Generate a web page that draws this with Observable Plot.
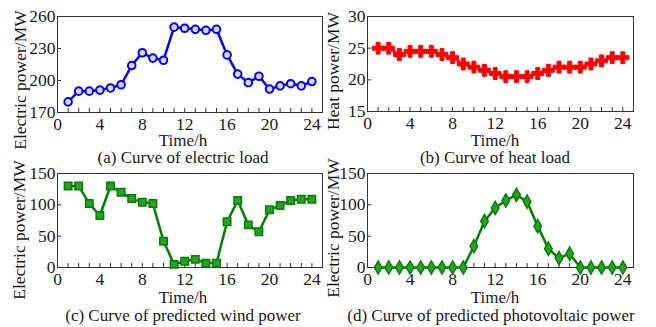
<!DOCTYPE html>
<html>
<head>
<meta charset="utf-8">
<script src="https://cdn.jsdelivr.net/npm/d3@7"></script>
<script src="https://cdn.jsdelivr.net/npm/@observablehq/plot@0.6"></script>
<style>
  html, body { margin: 0; padding: 0; background: #fff; }
  #wrap { position: relative; width: 656px; height: 327px; font-family: "Liberation Serif", "DejaVu Serif", serif; color: #1a1a1a; }
  .panel { position: absolute; }
  .lbl { position: absolute; font-size: 17.5px; white-space: nowrap; line-height: 0.75; transform: translate(-50%, -50%); }
  .xlbl, .cap { font-size: 17px; }
  .ylbl { transform: translate(-50%, -50%) rotate(-90deg); }
</style>
</head>
<body>
<div id="wrap"></div>
<script>
// ---- data ----
const hours = [1,2,3,4,5,6,7,8,9,10,11,12,13,14,15,16,17,18,19,20,21,22,23,24];
const electricLoad = [180,190,190,191,193,196,214,226,221,219,250,249,248,247,248,224,206,198,204,192,195,197,195,199];
const heatLoad = [25,25,24,24.5,24.5,24.5,24,23.5,22.5,22,21.5,21,20.5,20.5,20.5,21,21.5,22,22,22,22.5,23,23.5,23.5];
const windPower = [130,130,102,83,130,120,110,104,102,42,5,10,13,7,7,73,107,68,57,92,99,107,109,109];
const pvPower = [0,0,0,0,0,0,0,0,0,34,74,95,107,116,105,66,30,15,22,0,0,0,0,0];
const xMajorTicks = [0,4,8,12,16,20,24];
const xMinorTicks = [0,1,2,3,4,5,6,7,8,9,10,11,12,13,14,15,16,17,18,19,20,21,22,23,24,25];
const yTicksA = [170,200,230,260];
const yTicksB = [15,20,25,30];
const yTicksCD = [0,50,100,150];
const xLabel = "Time/h";
const captions = ["(a) Curve of electric load","(b) Curve of heat load","(c) Curve of predicted wind power","(d) Curve of predicted photovoltaic power"];
const yLabels = ["Electric power/MW","Heat power/MW","Electric power/MW","Electric power/MW"];

const wrap = document.getElementById("wrap");
const font = {fontFamily: "'Liberation Serif', 'DejaVu Serif', serif", fontSize: "17.5px", color: "#1a1a1a", background: "transparent", overflow: "visible"};

function panel({left, top, values, yDomain, yTicks, marginLeft, marginRight, marginTop, marginBottom, height, lineColor, dotOpts}) {
  const data = hours.map((h, i) => ({h, v: values[i]}));
  const chart = Plot.plot({
    width: 328,
    height,
    marginLeft, marginRight, marginTop, marginBottom,
    style: font,
    x: {domain: [0, 25]},
    y: {domain: yDomain},
    marks: [
      Plot.axisX({ticks: xMinorTicks, tickSize: -4, tickFormat: () => "", label: null, stroke: "#333"}),
      Plot.axisX({ticks: xMajorTicks, tickSize: 0, tickPadding: 5, label: null, fill: "#1a1a1a"}),
      Plot.axisY({ticks: yTicks, tickSize: -4, tickFormat: () => "", label: null, stroke: "#333"}),
      Plot.axisY({ticks: yTicks, tickSize: 0, tickPadding: 2, label: null, fill: "#1a1a1a"}),
      Plot.frame({stroke: "#333", strokeWidth: 1}),
      Plot.line(data, {x: "h", y: "v", stroke: lineColor, strokeWidth: 2.5}),
      Plot.dot(data, {x: "h", y: "v", ...dotOpts})
    ]
  });
  chart.classList.add("panel");
  chart.style.left = left + "px";
  chart.style.top = top + "px";
  wrap.appendChild(chart);
}

panel({left: 0, top: 0, values: electricLoad, yDomain: [170, 260], yTicks: yTicksA,
  marginLeft: 57, marginRight: 6, marginTop: 16, marginBottom: 18, height: 130,
  lineColor: "#0000ff", dotOpts: {symbol: "circle", r: 3.8, stroke: "#0000ff", strokeWidth: 2, fill: "#d8d8ff"}});
panel({left: 328, top: 0, values: heatLoad, yDomain: [15, 30], yTicks: yTicksB,
  marginLeft: 39, marginRight: 23, marginTop: 16, marginBottom: 19, height: 130,
  lineColor: "#ff0000", dotOpts: {symbol: "cross", r: 5, fill: "#ff0000", stroke: "#ff0000", strokeWidth: 1}});
panel({left: 0, top: 157, values: windPower, yDomain: [0, 150], yTicks: yTicksCD,
  marginLeft: 57, marginRight: 6, marginTop: 16, marginBottom: 20, height: 130,
  lineColor: "#008000", dotOpts: {symbol: "square", r: 4.2, stroke: "#008000", strokeWidth: 1.5, fill: "#2aa02a"}});
panel({left: 328, top: 157, values: pvPower, yDomain: [0, 150], yTicks: yTicksCD,
  marginLeft: 39, marginRight: 23, marginTop: 16, marginBottom: 20, height: 130,
  lineColor: "#008000", dotOpts: {symbol: "diamond", r: 4, stroke: "#008000", strokeWidth: 1.5, fill: "#2aa02a"}});

// text labels
function addLabel(text, cx, cy, cls) {
  const d = document.createElement("div");
  d.className = "lbl " + cls;
  d.textContent = text;
  d.style.left = cx + "px";
  d.style.top = cy + "px";
  wrap.appendChild(d);
}
const xLabelPos = [[183, 141], [495, 141], [183, 298], [495, 298]];
const capPos = [[183, 158], [495, 158], [183, 316], [491, 316]];
const yLabelPos = [[21, 80], [334, 71], [20, 230], [334, 228]];
for (let i = 0; i < 4; i++) {
  addLabel(xLabel, ...xLabelPos[i], "xlbl");
  addLabel(captions[i], ...capPos[i], "cap");
  addLabel(yLabels[i], ...yLabelPos[i], "ylbl");
}
</script>
</body>
</html>
